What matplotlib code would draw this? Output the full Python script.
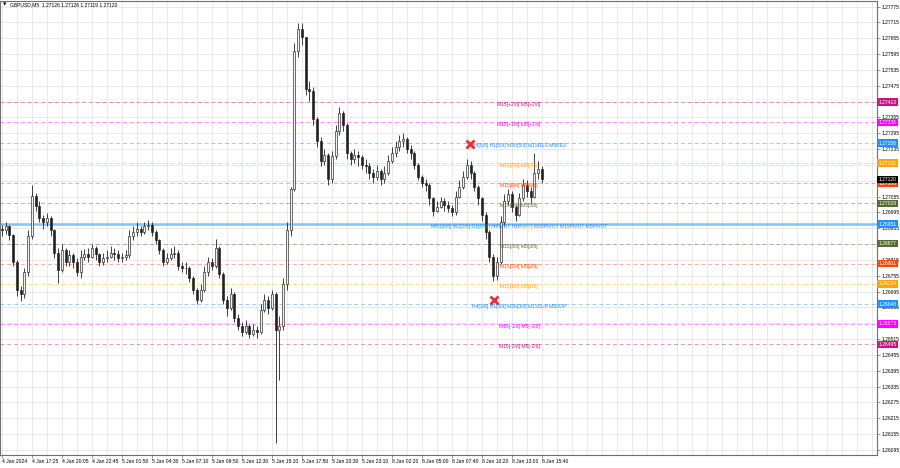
import matplotlib
matplotlib.use("Agg")
import matplotlib.pyplot as plt
import matplotlib.transforms as mtransforms
import numpy as np

plt.rcParams["font.family"] = ["Liberation Sans", "DejaVu Sans"]

# GBPUSD M5, one candle here = 4 bars of the original chart
first_open = 1.26934
closes = [
    1.26927, 1.26942, 1.26908, 1.26806, 1.26700, 1.26685, 1.26768, 1.26904, 1.27059, 1.27021,
    1.26972, 1.26957, 1.26972, 1.26927, 1.26843, 1.26775, 1.26851, 1.26806, 1.26832, 1.26806,
    1.26768, 1.26828, 1.26836, 1.26828, 1.26859, 1.26836, 1.26806, 1.26821, 1.26828, 1.26843,
    1.26836, 1.26821, 1.26828, 1.26832, 1.26904, 1.26919, 1.26934, 1.26919, 1.26942, 1.26949,
    1.26919, 1.26889, 1.26851, 1.26806, 1.26821, 1.26836, 1.26843, 1.26791, 1.26783, 1.26783,
    1.26745, 1.26700, 1.26662, 1.26700, 1.26768, 1.26806, 1.26791, 1.26859, 1.26760, 1.26662,
    1.26632, 1.26685, 1.26594, 1.26564, 1.26541, 1.26564, 1.26534, 1.26549, 1.26541, 1.26624,
    1.26662, 1.26632, 1.26685, 1.26549, 1.26564, 1.26722, 1.26927, 1.27085, 1.27607, 1.27690,
    1.27660, 1.27463, 1.27456, 1.27350, 1.27267, 1.27191, 1.27214, 1.27123, 1.27210, 1.27305,
    1.27373, 1.27327, 1.27221, 1.27199, 1.27214, 1.27206, 1.27176, 1.27169, 1.27146, 1.27131,
    1.27153, 1.27123, 1.27146, 1.27191, 1.27221, 1.27244, 1.27267, 1.27274, 1.27237, 1.27221,
    1.27176, 1.27131, 1.27108, 1.27100, 1.27048, 1.27002, 1.27017, 1.27040, 1.27025, 1.27010,
    1.26995, 1.27055, 1.27093, 1.27131, 1.27176, 1.27146, 1.27093, 1.27048, 1.26987, 1.26919,
    1.26828, 1.26753, 1.26806, 1.26957, 1.27040, 1.27063, 1.27017, 1.26987, 1.27048, 1.27100,
    1.27078, 1.27055, 1.27146, 1.27161, 1.27120,
]
highs = [
    1.26949, 1.26957, 1.26949, 1.26912, 1.26813, 1.26715, 1.26783, 1.26927, 1.27100, 1.27070,
    1.27040, 1.26987, 1.26991, 1.26980, 1.26934, 1.26859, 1.26874, 1.26859, 1.26851, 1.26843,
    1.26821, 1.26851, 1.26855, 1.26859, 1.26874, 1.26866, 1.26843, 1.26843, 1.26851, 1.26866,
    1.26859, 1.26851, 1.26843, 1.26851, 1.26927, 1.26942, 1.26957, 1.26942, 1.26957, 1.26968,
    1.26957, 1.26927, 1.26896, 1.26859, 1.26843, 1.26859, 1.26866, 1.26851, 1.26806, 1.26806,
    1.26791, 1.26753, 1.26707, 1.26722, 1.26791, 1.26828, 1.26821, 1.26896, 1.26866, 1.26768,
    1.26677, 1.26707, 1.26692, 1.26609, 1.26579, 1.26586, 1.26571, 1.26571, 1.26564, 1.26647,
    1.26685, 1.26677, 1.26700, 1.26692, 1.26602, 1.26745, 1.26957, 1.27093, 1.27637, 1.27713,
    1.27713, 1.27660, 1.27494, 1.27471, 1.27358, 1.27282, 1.27237, 1.27221, 1.27229, 1.27327,
    1.27395, 1.27380, 1.27335, 1.27229, 1.27237, 1.27229, 1.27214, 1.27199, 1.27184, 1.27161,
    1.27176, 1.27161, 1.27169, 1.27214, 1.27244, 1.27267, 1.27290, 1.27297, 1.27282, 1.27252,
    1.27229, 1.27184, 1.27138, 1.27123, 1.27108, 1.27055, 1.27040, 1.27055, 1.27048, 1.27040,
    1.27025, 1.27078, 1.27116, 1.27153, 1.27199, 1.27191, 1.27153, 1.27100, 1.27055, 1.26995,
    1.26927, 1.26836, 1.26828, 1.26980, 1.27063, 1.27085, 1.27078, 1.27025, 1.27070, 1.27123,
    1.27116, 1.27093, 1.27221, 1.27191, 1.27169,
]
lows = [
    1.26904, 1.26915, 1.26889, 1.26791, 1.26677, 1.26658, 1.26670, 1.26756, 1.26896, 1.27002,
    1.26957, 1.26934, 1.26942, 1.26904, 1.26821, 1.26726, 1.26768, 1.26791, 1.26791, 1.26783,
    1.26753, 1.26745, 1.26813, 1.26806, 1.26821, 1.26813, 1.26791, 1.26794, 1.26806, 1.26821,
    1.26813, 1.26806, 1.26806, 1.26813, 1.26821, 1.26889, 1.26904, 1.26904, 1.26912, 1.26927,
    1.26904, 1.26874, 1.26836, 1.26791, 1.26798, 1.26813, 1.26821, 1.26775, 1.26768, 1.26760,
    1.26730, 1.26685, 1.26647, 1.26654, 1.26692, 1.26753, 1.26775, 1.26783, 1.26745, 1.26647,
    1.26602, 1.26624, 1.26579, 1.26549, 1.26526, 1.26534, 1.26518, 1.26526, 1.26518, 1.26534,
    1.26617, 1.26609, 1.26624, 1.26122, 1.26360, 1.26549, 1.26700, 1.26904, 1.27078, 1.27584,
    1.27630, 1.27441, 1.27418, 1.27327, 1.27244, 1.27169, 1.27176, 1.27100, 1.27108, 1.27199,
    1.27290, 1.27305, 1.27199, 1.27176, 1.27184, 1.27169, 1.27161, 1.27146, 1.27123, 1.27108,
    1.27116, 1.27100, 1.27108, 1.27138, 1.27184, 1.27206, 1.27229, 1.27244, 1.27221, 1.27199,
    1.27161, 1.27116, 1.27093, 1.27078, 1.27025, 1.26983, 1.26995, 1.27010, 1.27002, 1.26995,
    1.26980, 1.26987, 1.27048, 1.27085, 1.27123, 1.27123, 1.27078, 1.27025, 1.26964, 1.26896,
    1.26806, 1.26734, 1.26738, 1.26798, 1.26942, 1.27025, 1.26995, 1.26964, 1.26980, 1.27040,
    1.27055, 1.27032, 1.27048, 1.27123, 1.27108,
]

# levels drawn by the indicator
level_names = [
    "M15[+2/8] M5[+2/8]",
    "M15[+1/8] M5[+1/8]",
    "H4[5/8] H1[5/8] M30[5/8] M15RES M5RES",
    "M15[7/8] M5[7/8]",
    "M15[6/8] M5[6/8]",
    "M15[5/8] M5[5/8]",
    "MN1[6/8] W1[2/8] D1[8/8] H4PIVOT H1PIVOT M30PIVOT M15PIVOT M5PIVOT",
    "M15[3/8] M5[3/8]",
    "M15[2/8] M5[2/8]",
    "M15[1/8] M5[1/8]",
    "H4[3/8] H1[3/8] M30[3/8] M15SUP M5SUP",
    "M15[-1/8] M5[-1/8]",
    "M15[-2/8] M5[-2/8]",
]
level_prices = [1.27413, 1.27336, 1.27258, 1.27182, 1.27106, 1.27029, 1.26951,
                1.26877, 1.26801, 1.26724, 1.26648, 1.26573, 1.26495]
level_colors = ["#C71585", "#FF00FF", "#1E90FF", "#FFA500", "#FF4500", "#556B2F", "#1E90FF",
                "#556B2F", "#FF4500", "#FFA500", "#1E90FF", "#FF00FF", "#C71585"]

# red crosses (bar position in candles, price)
cross_pos = [124.8, 131.2]
cross_prices = [1.27255, 1.26662]

last_price = 1.27120

price_ticks = [1.26095, 1.26155, 1.26215, 1.26275, 1.26335, 1.26395, 1.26455, 1.26515,
               1.26575, 1.26635, 1.26695, 1.26755, 1.26815, 1.26875, 1.26935, 1.26995,
               1.27055, 1.27115, 1.27175, 1.27235, 1.27295, 1.27355, 1.27415, 1.27475,
               1.27535, 1.27595, 1.27655, 1.27715, 1.27775]
time_labels = ["4 Jan 2024", "4 Jan 17:25", "4 Jan 20:05", "4 Jan 22:45", "5 Jan 01:50",
               "5 Jan 04:30", "5 Jan 07:10", "5 Jan 09:50", "5 Jan 12:30", "5 Jan 15:10",
               "5 Jan 17:50", "5 Jan 20:30", "5 Jan 23:10", "8 Jan 02:20", "8 Jan 05:00",
               "8 Jan 07:40", "8 Jan 10:20", "8 Jan 13:00", "8 Jan 15:40"]

FS = 3.6
LABEL_X = 137.9

fig = plt.figure(figsize=(9, 4.68), dpi=100)
ax = fig.add_axes([0.0, 13 / 468, 877 / 900, 454 / 468])
ax.set_xlim(-0.507, 233.36)
ax.set_ylim(1.26076, 1.27796)

# grid
for t in price_ticks:
    ax.axhline(t, color="#e6e6e6", lw=0.6, zorder=0)
for gx in range(0, 234, 4):
    ax.axvline(gx, color="#e6e6e6", lw=0.6, zorder=0)

# levels
for name, price, col in zip(level_names, level_prices, level_colors):
    if "PIVOT" in name:
        ax.axhline(price, color=col, lw=1.8, alpha=0.55, zorder=1)
    else:
        ax.axhline(price, color=col, lw=0.7, alpha=0.45, ls=(0, (4, 3)), zorder=1)
    ax.text(LABEL_X, price, name, color=col, fontsize=FS, ha="center", va="top", zorder=6)

# candles
closes = np.array(closes)
opens = np.concatenate([[first_open], closes[:-1]])
highs = np.maximum(np.array(highs), np.maximum(opens, closes))
lows = np.minimum(np.array(lows), np.minimum(opens, closes))
x = np.arange(len(closes))
ax.vlines(x, lows, highs, color="#202020", lw=0.6, zorder=3)
bottoms = np.minimum(opens, closes)
heights = np.maximum(np.abs(closes - opens), 0.00002)
faces = ["#f0f0f0" if c > o else "#202020" for o, c in zip(opens, closes)]
ax.bar(x, heights, bottom=bottoms, width=0.55, color=faces, edgecolor="#202020",
       linewidth=0.45, zorder=4)

# crosses
ax.plot(cross_pos, cross_prices, ls="none", marker="x", ms=6, mew=2, color="#e8303a", zorder=7)

# axes look
for sp in ax.spines.values():
    sp.set_color("#707070")
    sp.set_linewidth(0.8)
ax.yaxis.tick_right()
ax.set_yticks(price_ticks)
# scale labels hidden under a price box are left out, as on the terminal
box_prices = level_prices + [last_price]
ax.set_yticklabels([
    "" if min(abs(t - b) for b in box_prices) < 0.0001 else f"{t:.5f}"
    for t in price_ticks
])
ax.set_xticks(range(0, 145, 8))
ax.set_xticklabels(time_labels)
for lbl in ax.get_xticklabels():
    lbl.set_ha("left")
ax.tick_params(axis="both", labelsize=FS, length=2, width=0.5, pad=1, colors="#707070",
               labelcolor="black")

# price boxes on the right scale
trans = mtransforms.blended_transform_factory(ax.transAxes, ax.transData)
for price, col in zip(level_prices, level_colors):
    ax.text(1.0 + 1.5 / 877, price, f"{price:.5f}", transform=trans, ha="left", va="center",
            fontsize=FS, color="white", clip_on=False, zorder=10,
            bbox=dict(boxstyle="square,pad=0.25", fc=col, ec="none"))
ax.text(1.0 + 1.5 / 877, last_price, f"{last_price:.5f}", transform=trans, ha="left",
        va="center", fontsize=FS, color="white", clip_on=False, zorder=10,
        bbox=dict(boxstyle="square,pad=0.25", fc="black", ec="none"))

# header
fig.text(3 / 900, 1 - 5 / 468, "\u25bc", fontsize=3.2, va="center", ha="left",
         family=["DejaVu Sans"])
fig.text(10 / 900, 1 - 5 / 468, "GBPUSD,M5  1.27126 1.27126 1.27119 1.27120",
         fontsize=FS, va="center", ha="left")

fig.savefig("out.png", dpi=100)
